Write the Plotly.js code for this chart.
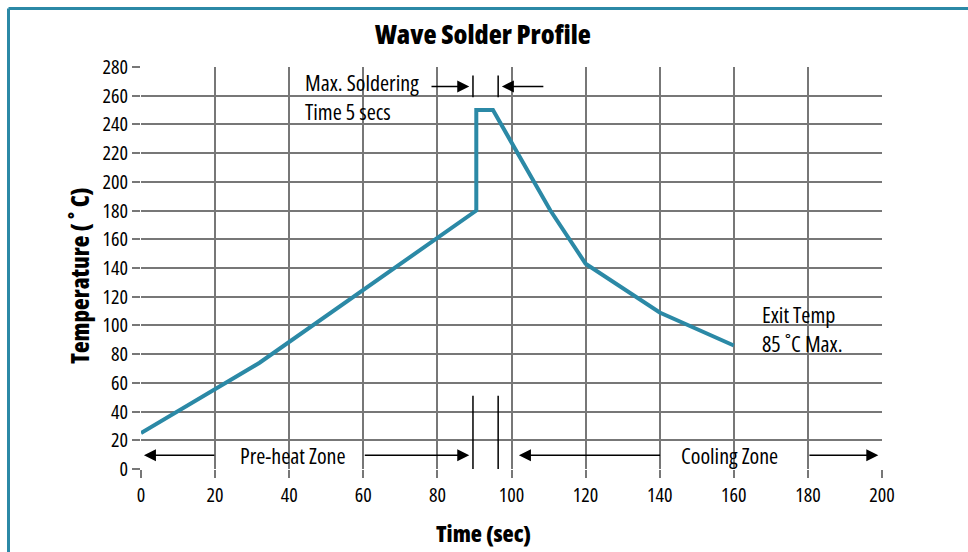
<!DOCTYPE html>
<html>
<head>
<meta charset="utf-8">
<script src="https://cdn.plot.ly/plotly-3.0.1.min.js"></script>
<style>
html,body{margin:0;padding:0;background:#fff;}
#chart{width:968px;height:552px;}
svg text, text{font-stretch:75% !important;}
</style>
</head>
<body>
<div id="chart"></div>
<script>
// Data
const timeSec = [0, 32, 90.5, 90.5, 95, 110.5, 120, 140, 160];
const tempC   = [25, 74, 180, 250, 250, 180, 143, 109, 86];
const xTicks = [0, 20, 40, 60, 80, 100, 120, 140, 160, 180, 200];
const yTicks = [0, 20, 40, 60, 80, 100, 120, 140, 160, 180, 200, 220, 240, 260, 280];
const soldStart = 89.6, soldEnd = 96.4;

const FONT = "'Open Sans', 'Noto Sans', sans-serif";
const TEAL = '#2b89a6';
const GRID = '#777777';

const W = 968, H = 552, ML = 141, MR = 86, MT = 67, MB = 83;
const pw = W - ML - MR, ph = H - MT - MB;
const px = v => (v - ML) / pw;          // pixel -> paper x
const py = v => (H - MB - v) / ph;      // pixel -> paper y

const trace = {
  x: timeSec, y: tempC, type: 'scatter', mode: 'lines',
  line: {color: TEAL, width: 4}, hoverinfo: 'skip'
};

function arrow(xHead, yHead, xTail, yTail) {
  return {x: xHead, y: yHead, ax: xTail, ay: yTail, xref: 'x', yref: 'y', axref: 'x', ayref: 'y',
          text: '', showarrow: true, arrowhead: 2, arrowsize: 1.6, arrowwidth: 1.5, arrowcolor: '#000'};
}
function label(x, y, text, anchor) {
  return {x: x, y: y, xref: 'x', yref: 'y', text: text, showarrow: false, xanchor: anchor || 'center',
          yanchor: 'middle', align: anchor || 'center',
          font: {family: FONT, size: 22, weight: 500, color: '#000'}};
}
function whiteBox(x0, x1, y0, y1) {
  return {type: 'rect', xref: 'x', yref: 'y', x0: x0, x1: x1, y0: y0, y1: y1,
          fillcolor: '#fff', line: {width: 0}, layer: 'below'};
}
function vline(x, y0, y1) {
  return {type: 'line', xref: 'x', yref: 'y', x0: x, x1: x, y0: y0, y1: y1,
          line: {color: '#000', width: 1.5}, layer: 'above'};
}

const shapes = [
  whiteBox(40.2, 79.9, 241, 279),
  whiteBox(20.2, 59.8, 1.2, 18.5),
  whiteBox(140.2, 180, 1.2, 18.5),
  whiteBox(160.4, 200, 80.5, 119.5),
  vline(soldStart, 0, 51), vline(soldEnd, 0, 51),
  vline(soldStart, 259, 274), vline(soldEnd, 259, 274),
  // outer frame
  {type: 'line', xref: 'paper', yref: 'paper', x0: px(8.5), x1: px(968), y0: py(8.5), y1: py(8.5),
   line: {color: TEAL, width: 3}},
  {type: 'line', xref: 'paper', yref: 'paper', x0: px(8.5), x1: px(8.5), y0: py(8.5), y1: py(552),
   line: {color: TEAL, width: 3}}
];

const titleFont = s => ({family: FONT, size: s, weight: 800, color: '#000'});

const annotations = [
  arrow(0.8, 9.5, 20.2, 9.5),
  arrow(88.6, 9.5, 60, 9.5),
  arrow(102, 9.5, 140.5, 9.5),
  arrow(199, 9.5, 180, 9.5),
  arrow(88.6, 266.5, 78, 266.5),
  arrow(97.4, 266.5, 109, 266.5),
  label(41.0, 9.5, 'Pre-heat Zone'),
  label(158.8, 9.5, 'Cooling Zone'),
  label(43.6, 259.8, 'Max. Soldering<br>Time 5 secs', 'left'),
  label(167.0, 97.9, 'Exit Temp<br>85 ˚C Max.', 'left'),
  {xref: 'paper', yref: 'paper', x: px(483), y: py(533), text: 'Time (sec)', showarrow: false,
   xanchor: 'center', yanchor: 'middle', font: titleFont(23)},
  {xref: 'paper', yref: 'paper', x: px(79), y: py(276), text: 'Temperature ( ˚ C)', showarrow: false,
   textangle: -90, xanchor: 'center', yanchor: 'middle', font: titleFont(24)},
  {xref: 'paper', yref: 'paper', x: px(483), y: py(33), text: 'Wave Solder Profile', showarrow: false,
   xanchor: 'center', yanchor: 'middle', font: titleFont(27)}
];

const tickFont = {family: FONT, size: 20, weight: 500, color: '#000'};

const layout = {
  width: W, height: H,
  margin: {l: ML, r: MR, t: MT, b: MB, pad: 0},
  paper_bgcolor: '#fff', plot_bgcolor: '#fff',
  showlegend: false,
  font: {family: FONT, size: 20, color: '#000'},
  xaxis: {range: [0, 200], tickvals: xTicks, ticktext: xTicks.map(String), showgrid: true,
          gridcolor: GRID, gridwidth: 2, zeroline: false, showline: false,
          ticks: 'outside', ticklen: 8, tickwidth: 2, tickcolor: GRID,
          tickfont: tickFont, fixedrange: true},
  yaxis: {range: [0, 280], tickvals: yTicks, ticktext: yTicks.map(String), showgrid: true,
          gridcolor: GRID, gridwidth: 2, zeroline: false, showline: false,
          ticks: 'outside', ticklen: 8, tickwidth: 2, tickcolor: GRID,
          tickfont: tickFont, fixedrange: true},
  shapes: shapes,
  annotations: annotations
};

Plotly.newPlot('chart', [trace], layout, {displayModeBar: false, staticPlot: true});
</script>
</body>
</html>
